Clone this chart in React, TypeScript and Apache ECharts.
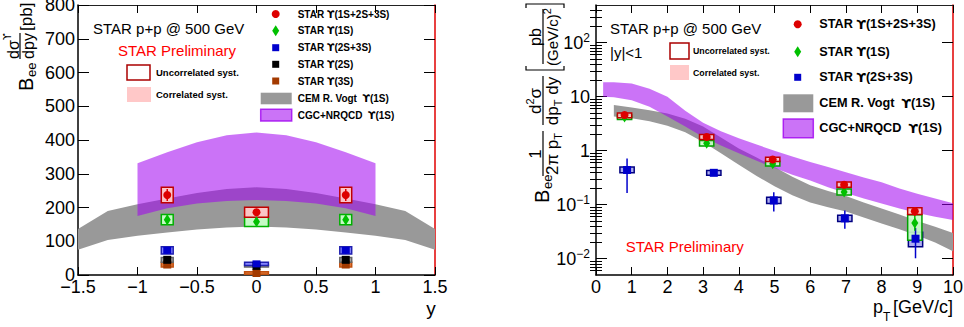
import React, { useEffect, useRef } from 'react';
import * as echarts from 'echarts';

const FONT = '"Liberation Sans", Arial, Helvetica, sans-serif';
const UPS_FONT = '"DejaVu Sans", "Liberation Sans", sans-serif';

// ---------------- Left panel: Bee dsigma/dy vs rapidity ----------------
const rapidity = [-0.75, 0, 0.75];
const rapidityHalfBin = [0.05, 0.1, 0.05];

const ups123Y = [237, 186, 237];
const ups123YStat = [18, 10, 18];
const ups123YSyst = [23, 15, 23];

const ups1SY = [164, 158, 164];
const ups1SYStat = [12, 9, 12];
const ups1SYSyst = [15, 14, 15];

const ups23Y = [73, 33, 73];
const ups23YStat = [10, 5, 10];
const ups23YSyst = [11, 5, 11];

const ups2SY = [45, 27, 45];
const ups2SYStat = [9, 6, 9];
const ups2SYSyst = [7, 3, 7];

const ups3SY = [31, 6, 31];
const ups3SYStat = [9, 6, 9];
const ups3SYSyst = [7, 4, 7];

const cemRap = [-1.5, -1.25, -1, -0.75, -0.5, -0.25, 0, 0.25, 0.5, 0.75, 1, 1.25, 1.5];
const cemRapLow = [75, 104, 116, 126, 135, 141, 144, 141, 135, 126, 116, 104, 75];
const cemRapHigh = [136, 190, 210, 227, 243, 255, 260, 255, 243, 227, 210, 190, 136];

const cgcRap = [-1, -0.75, -0.5, -0.25, 0, 0.25, 0.5, 0.75, 1];
const cgcRapLow = [175, 198, 212, 219, 222, 219, 212, 198, 175];
const cgcRapHigh = [331, 364, 393, 414, 422, 414, 393, 364, 331];

// ---------------- Right panel: pT spectra ----------------
const ptGround = [0.8, 3.1, 4.95, 6.95, 8.93];
const ptExcited = [0.87, 3.3, 4.98, 6.97, 8.95];
const ptHalfBin = [0.2, 0.2, 0.2, 0.2, 0.2];

const ups123Pt = [4.6, 1.8, 0.69, 0.235, 0.076];
const ups123PtStat = [[4.2, 5.0], [1.62, 1.98], [0.62, 0.77], [0.205, 0.27], [0.062, 0.09]];
const ups123PtSyst = [[4.1, 5.0], [1.62, 2.0], [0.63, 0.76], [0.21, 0.265], [0.066, 0.088]];

const ups1SPt = [4.2, 1.38, 0.575, 0.172, 0.046];
const ups1SPtStat = [[3.7, 4.7], [1.2, 1.56], [0.49, 0.66], [0.145, 0.2], [0.033, 0.062]];
const ups1SPtSyst = [[3.8, 4.6], [1.22, 1.55], [0.52, 0.64], [0.152, 0.195], [0.022, 0.065]];

const ups23Pt = [0.44, 0.39, 0.12, 0.056, 0.0235];
const ups23PtStat = [[0.165, 0.72], [0.34, 0.45], [0.075, 0.17], [0.036, 0.078], [0.0102, 0.037]];
const ups23PtSyst = [[0.39, 0.5], [0.35, 0.43], [0.105, 0.138], [0.049, 0.064], [0.0167, 0.031]];

const cemPt = [0.5, 1, 1.5, 2, 2.5, 3, 3.5, 4, 4.5, 5, 5.5, 6, 6.5, 7, 7.5, 8, 8.5, 9, 9.5, 10];
const cemPtLow = [4.3, 4.0, 3.5, 2.9, 2.2, 1.45, 0.9, 0.55, 0.34, 0.22, 0.15, 0.11, 0.09, 0.075, 0.058, 0.045, 0.035, 0.027, 0.02, 0.0138];
const cemPtHigh = [7.0, 6.3, 5.6, 4.9, 3.9, 2.8, 1.75, 1.1, 0.75, 0.5, 0.33, 0.23, 0.18, 0.145, 0.11, 0.085, 0.066, 0.05, 0.039, 0.03];

const cgcPt = [0.2, 0.5, 1, 1.5, 2, 2.5, 3, 3.5, 4, 4.5, 5, 5.5, 6, 6.5, 7, 7.5, 8, 8.5, 9, 9.5, 10];
const cgcPtLow = [10, 9.8, 8.6, 6.5, 4.3, 2.8, 1.8, 1.25, 0.9, 0.65, 0.48, 0.36, 0.28, 0.21, 0.165, 0.13, 0.105, 0.085, 0.07, 0.06, 0.052];
const cgcPtHigh = [18.5, 18.5, 17.5, 14, 10, 5.5, 3.3, 2.3, 1.7, 1.3, 1.0, 0.78, 0.62, 0.5, 0.4, 0.32, 0.26, 0.2, 0.16, 0.13, 0.107];

const logMajorTicks = [0.01, 0.1, 1, 10, 100];
const logMinorTicks = [
  0.006, 0.007, 0.008, 0.009,
  0.02, 0.03, 0.04, 0.05, 0.06, 0.07, 0.08, 0.09,
  0.2, 0.3, 0.4, 0.5, 0.6, 0.7, 0.8, 0.9,
  2, 3, 4, 5, 6, 7, 8, 9,
  20, 30, 40, 50, 60, 70, 80, 90,
  200, 300, 400,
];

// legend labels ({u|...} marks the Upsilon glyph)
const legendStates = ['STAR {u|\u03d2}(1S+2S+3S)', 'STAR {u|\u03d2}(1S)', 'STAR {u|\u03d2}(2S+3S)', 'STAR {u|\u03d2}(2S)', 'STAR {u|\u03d2}(3S)'];
const legendModels = ['CEM R. Vogt  {u|\u03d2}(1S)', 'CGC+NRQCD  {u|\u03d2}(1S)'];

// ---------------- colours ----------------
const RED = '#dd0000';
const GREEN = '#00c000';
const BLUE = '#0000cc';
const BLACK = '#000000';
const BROWN = '#a33a00';
const GRAY_BAND = '#999999';
const PURPLE_BAND = 'rgba(160,0,240,0.55)';

const symRange = (v: number[], e: number[]) => v.map((x, i) => [x - e[i], x + e[i]]);

function bandSeries(xA: number, yA: number, xs: number[], lo: number[], hi: number[], fill: string, z: number) {
  return {
    type: 'custom', xAxisIndex: xA, yAxisIndex: yA, z, silent: true,
    data: xs.map((x, i) => [x, lo[i], hi[i]]),
    encode: { x: 0, y: [1, 2] },
    renderItem: (params: any, api: any) => {
      if (params.dataIndex !== 0) return { type: 'group', children: [] };
      const pts: number[][] = [];
      for (let i = 0; i < xs.length; i++) pts.push(api.coord([xs[i], hi[i]]));
      for (let i = xs.length - 1; i >= 0; i--) pts.push(api.coord([xs[i], lo[i]]));
      return { type: 'polygon', shape: { points: pts }, style: { fill } };
    },
  };
}

function boxSeries(xA: number, yA: number, xs: number[], half: number[], ranges: number[][], fill: string, stroke: string) {
  return {
    type: 'custom', xAxisIndex: xA, yAxisIndex: yA, z: 3, silent: true, clip: false,
    data: xs.map((x, i) => [x - half[i], x + half[i], ranges[i][0], ranges[i][1]]),
    encode: { x: [0, 1], y: [2, 3] },
    renderItem: (_p: any, api: any) => {
      const a = api.coord([api.value(0), api.value(3)]);
      const b = api.coord([api.value(1), api.value(2)]);
      return {
        type: 'rect',
        shape: { x: a[0], y: a[1], width: b[0] - a[0], height: b[1] - a[1] },
        style: { fill, stroke, lineWidth: 1.5 },
      };
    },
  };
}

function errSeries(xA: number, yA: number, xs: number[], ranges: number[][], color: string) {
  return {
    type: 'custom', xAxisIndex: xA, yAxisIndex: yA, z: 4, silent: true, clip: false,
    data: xs.map((x, i) => [x, ranges[i][0], ranges[i][1]]),
    encode: { x: 0, y: [1, 2] },
    renderItem: (_p: any, api: any) => {
      const a = api.coord([api.value(0), api.value(1)]);
      const b = api.coord([api.value(0), api.value(2)]);
      return { type: 'line', shape: { x1: a[0], y1: a[1], x2: b[0], y2: b[1] }, style: { stroke: color, lineWidth: 1.5 } };
    },
  };
}

function markerSeries(xA: number, yA: number, xs: number[], vals: number[], symbol: string, size: any, color: string) {
  return {
    type: 'scatter', xAxisIndex: xA, yAxisIndex: yA, z: 5, silent: true, clip: false,
    symbol, symbolSize: size, itemStyle: { color, opacity: 1 },
    data: xs.map((x, i) => [x, vals[i]]),
  };
}

const signed = (v: number) => (v < 0 ? '\u2212' + String(-v) : String(v));
const powLabel = (v: number) => {
  const n = Math.round(Math.log10(v));
  if (n === 0) return '1';
  if (n === 1) return '10';
  return '10{sup|' + (n < 0 ? '\u2212' + -n : String(n)) + '}';
};

const supSub = {
  sup: { fontSize: 11, verticalAlign: 'top', fontFamily: FONT, fill: '#000' },
  sub: { fontSize: 11, verticalAlign: 'bottom', fontFamily: FONT, fill: '#000' },
};

function txt(x: number, y: number, text: string, size: number, align = 'left', extra: any = {}) {
  return {
    type: 'text', x, y,
    style: {
      text, fontSize: size, fontFamily: FONT, fill: '#000', align, verticalAlign: 'middle',
      lineHeight: 22, rich: supSub, ...extra,
    },
  };
}
function seg(x1: number, y1: number, x2: number, y2: number, color = '#000', w = 1.2) {
  return { type: 'line', shape: { x1, y1, x2, y2 }, style: { stroke: color, lineWidth: w } };
}
function legCircle(cx: number, cy: number, color: string) {
  return { type: 'circle', shape: { cx, cy, r: 4 }, style: { fill: color } };
}
function legDiamond(cx: number, cy: number, color: string) {
  return { type: 'polygon', shape: { points: [[cx, cy - 5.5], [cx + 3.5, cy], [cx, cy + 5.5], [cx - 3.5, cy]] }, style: { fill: color } };
}
function legSquare(cx: number, cy: number, color: string) {
  return { type: 'rect', shape: { x: cx - 3.5, y: cy - 3.5, width: 7, height: 7 }, style: { fill: color } };
}
function legRect(x: number, y: number, w: number, h: number, fill: string, stroke?: string) {
  return { type: 'rect', shape: { x, y, width: w, height: h }, style: { fill, stroke: stroke || null, lineWidth: 1.5 } };
}
const bold = (x: number, y: number, text: string, size: number) =>
  txt(x, y, text, size, 'left', {
    fontWeight: 'bold', lineHeight: size + 4,
    rich: { u: { fontFamily: UPS_FONT, fontWeight: 'bold', fontSize: size, fill: '#000' } },
  });

function buildOption() {
  const axText = { fontFamily: FONT, fontSize: 18, color: '#000', lineHeight: 18 };
  const tick = (len: number) => ({ show: true, inside: true, length: len, lineStyle: { color: '#000', width: 1 } });
  const line = (color: string, w: number) => ({ show: true, onZero: false, lineStyle: { color, width: w } });

  const xAxis = [
    { type: 'value', gridIndex: 0, position: 'bottom', min: -1.5, max: 1.5, interval: 0.5,
      axisLine: line('#000', 1.5), axisTick: tick(8), splitLine: { show: false },
      axisLabel: { ...axText, margin: 3, formatter: signed, showMinLabel: true, showMaxLabel: true } },
    { type: 'value', gridIndex: 1, position: 'bottom', min: 0, max: 10, interval: 1,
      axisLine: line('#000', 1.5), axisTick: tick(8), splitLine: { show: false },
      axisLabel: { ...axText, margin: 3, showMinLabel: true, showMaxLabel: true } },
    { type: 'value', gridIndex: 0, position: 'top', min: -1.5, max: 1.5, interval: 0.5,
      axisLine: line('#222', 1), axisTick: tick(8), axisLabel: { show: false }, splitLine: { show: false } },
    { type: 'value', gridIndex: 1, position: 'top', min: 0, max: 10, interval: 1,
      axisLine: line('#222', 1), axisTick: tick(8), axisLabel: { show: false }, splitLine: { show: false } },
  ];

  const logLabel = { ...axText, margin: 6, customValues: logMajorTicks, formatter: powLabel, lineHeight: 22,
    rich: { sup: { fontSize: 12, verticalAlign: 'top', fontFamily: FONT, color: '#000' } } };

  const yAxis = [
    { type: 'value', gridIndex: 0, position: 'left', min: 0, max: 800, interval: 100,
      axisLine: line('#000', 1.5), axisTick: tick(11), splitLine: { show: false },
      axisLabel: { ...axText, margin: 3, showMinLabel: true, showMaxLabel: true } },
    { type: 'log', gridIndex: 1, position: 'left', min: 0.005, max: 500, logBase: 10,
      axisLine: line('#000', 1.5), axisTick: { ...tick(11), customValues: logMajorTicks },
      axisLabel: logLabel, splitLine: { show: false }, minorTick: { show: false } },
    { type: 'value', gridIndex: 0, position: 'right', min: 0, max: 800, interval: 100,
      axisLine: line('#e00000', 1.5), axisTick: tick(11), axisLabel: { show: false }, splitLine: { show: false } },
    { type: 'log', gridIndex: 1, position: 'right', min: 0.005, max: 500, logBase: 10,
      axisLine: line('#e00000', 1.5), axisTick: { ...tick(11), customValues: logMajorTicks },
      axisLabel: { show: false }, splitLine: { show: false } },
    { type: 'log', gridIndex: 1, position: 'left', min: 0.005, max: 500, logBase: 10,
      axisLine: { show: false }, axisTick: { ...tick(6), customValues: logMinorTicks },
      axisLabel: { show: false }, splitLine: { show: false } },
    { type: 'log', gridIndex: 1, position: 'right', min: 0.005, max: 500, logBase: 10,
      axisLine: { show: false }, axisTick: { ...tick(6), customValues: logMinorTicks },
      axisLabel: { show: false }, splitLine: { show: false } },
  ];

  const series: any[] = [
    // left
    bandSeries(0, 0, cemRap, cemRapLow, cemRapHigh, GRAY_BAND, 1),
    bandSeries(0, 0, cgcRap, cgcRapLow, cgcRapHigh, PURPLE_BAND, 2),
    boxSeries(0, 0, rapidity, rapidityHalfBin, symRange(ups3SY, ups3SYSyst), '#e07838', '#c05010'),
    boxSeries(0, 0, rapidity, rapidityHalfBin, symRange(ups2SY, ups2SYSyst), '#a8a8a8', '#666666'),
    boxSeries(0, 0, rapidity, rapidityHalfBin, symRange(ups23Y, ups23YSyst), '#8585ff', '#2020b0'),
    boxSeries(0, 0, rapidity, rapidityHalfBin, symRange(ups1SY, ups1SYSyst), 'rgba(200,255,200,0.95)', '#00b000'),
    boxSeries(0, 0, rapidity, rapidityHalfBin, symRange(ups123Y, ups123YSyst), 'rgba(255,200,200,0.95)', '#c00000'),
    errSeries(0, 0, rapidity, symRange(ups3SY, ups3SYStat), BROWN),
    errSeries(0, 0, rapidity, symRange(ups2SY, ups2SYStat), BLACK),
    errSeries(0, 0, rapidity, symRange(ups23Y, ups23YStat), BLUE),
    errSeries(0, 0, rapidity, symRange(ups1SY, ups1SYStat), GREEN),
    errSeries(0, 0, rapidity, symRange(ups123Y, ups123YStat), RED),
    markerSeries(0, 0, rapidity, ups3SY, 'rect', 8, BROWN),
    markerSeries(0, 0, rapidity, ups2SY, 'rect', 8, BLACK),
    markerSeries(0, 0, rapidity, ups23Y, 'rect', [8, 7], BLUE),
    markerSeries(0, 0, rapidity, ups1SY, 'diamond', [7, 11], GREEN),
    markerSeries(0, 0, rapidity, ups123Y, 'circle', 8, RED),
    // right
    bandSeries(1, 1, cemPt, cemPtLow, cemPtHigh, GRAY_BAND, 1),
    bandSeries(1, 1, cgcPt, cgcPtLow, cgcPtHigh, PURPLE_BAND, 2),
    boxSeries(1, 1, ptExcited, ptHalfBin, ups23PtSyst, 'rgba(120,120,230,0.6)', '#000080'),
    boxSeries(1, 1, ptGround, ptHalfBin, ups1SPtSyst, 'rgba(200,255,200,0.9)', '#00a000'),
    boxSeries(1, 1, ptGround, ptHalfBin, ups123PtSyst, 'rgba(255,200,200,0.9)', '#c00000'),
    errSeries(1, 1, ptExcited, ups23PtStat, BLUE),
    errSeries(1, 1, ptGround, ups1SPtStat, GREEN),
    errSeries(1, 1, ptGround, ups123PtStat, RED),
    markerSeries(1, 1, ptExcited, ups23Pt, 'rect', 8, BLUE),
    markerSeries(1, 1, ptGround, ups1SPt, 'diamond', [7, 11], GREEN),
    markerSeries(1, 1, ptGround, ups123Pt, 'circle', 8, RED),
  ];

  const leftTitle = {
    type: 'group', x: 32, y: 92, rotation: Math.PI / 2,
    children: [
      txt(1, -6.5, 'B', 20),
      txt(15, -1, 'ee', 13),
      txt(46, -19, 'd\u03c3{u|\u03d2}', 16, 'center', {
        rich: { u: { fontFamily: UPS_FONT, fontSize: 10, verticalAlign: 'top', fill: '#000' } },
      }),
      seg(33, -12, 59, -12),
      txt(46, -4, 'dpy', 16, 'center'),
      txt(61, -5.3, '[pb]', 17),
    ],
  };

  const rightTitle = {
    type: 'group', x: 548, y: 205, rotation: Math.PI / 2,
    children: [
      txt(2, -6.5, 'B', 20),
      txt(16, -1, 'ee', 13),
      txt(51, -13, '1', 17, 'center'),
      seg(29, -5, 74, -5),
      txt(51, 4, '2\u03c0 p{sub|T}', 17, 'center'),
      txt(104, -13, 'd{sup|2}\u03c3', 17, 'center'),
      seg(80, -5, 129, -5),
      txt(104, 4, 'dp{sub|T} dy', 17, 'center'),
      { type: 'polyline', shape: { points: [[139, -22], [135, -22], [135, 16], [139, 16]] }, style: { stroke: '#000', lineWidth: 1.2, fill: null } },
      txt(168, -13, 'pb', 16, 'center'),
      seg(141, -5, 196, -5),
      txt(168, 4, '(GeV/c){sup|2}', 15, 'center'),
      { type: 'polyline', shape: { points: [[197, -22], [201, -22], [201, 16], [197, 16]] }, style: { stroke: '#000', lineWidth: 1.2, fill: null } },
    ],
  };

  const leftLegendY = [14, 30.7, 47.7, 64.3, 81];
  const leftModelY = [98.5, 115];
  const rightLegendY = [24.3, 51.7, 77.3];
  const rightModelY = [103, 128];

  const graphic: any[] = [
    leftTitle,
    rightTitle,
    // left panel texts
    txt(93, 28, 'STAR p+p @ 500 GeV', 15),
    txt(118, 50, 'STAR Preliminary', 15, 'left', { fill: '#ff0000' }),
    legRect(127, 65, 23, 15, '#ffffff', '#aa0000'),
    bold(156, 72.5, 'Uncorrelated syst.', 9.5),
    legRect(127, 87, 24, 15, '#ffc8c8'),
    bold(156, 94.5, 'Correlated syst.', 9.5),
    legCircle(275.7, leftLegendY[0], RED),
    legDiamond(275.7, leftLegendY[1], GREEN),
    legSquare(275.7, leftLegendY[2], BLUE),
    legSquare(275.7, leftLegendY[3], BLACK),
    legSquare(275.7, leftLegendY[4], BROWN),
    legRect(260.7, 92.7, 31, 11.6, GRAY_BAND),
    legRect(260.7, 109.3, 31, 11.7, PURPLE_BAND, 'rgba(160,0,240,0.8)'),
    ...legendStates.map((s, i) => bold(297.7, leftLegendY[i], s, 10)),
    ...legendModels.map((s, i) => bold(297.7, leftModelY[i], s, 10)),
    txt(431, 308, 'y', 19, 'center', { lineHeight: 19 }),
    // right panel texts
    txt(610, 28, 'STAR p+p @ 500 GeV', 15),
    txt(610, 52, '|y|<1', 15),
    legRect(670, 43, 19, 16, '#ffffff', '#aa0000'),
    bold(693, 51, 'Uncorrelated syst.', 8.8),
    legRect(670, 65, 19, 15, '#ffc8c8'),
    bold(693, 72.5, 'Correlated syst.', 8.8),
    legCircle(797.7, rightLegendY[0], RED),
    legDiamond(797.7, rightLegendY[1], GREEN),
    legSquare(797.7, rightLegendY[2], BLUE),
    legRect(783.3, 94.3, 30, 18, GRAY_BAND),
    legRect(783.3, 119, 30, 18.7, PURPLE_BAND, 'rgba(160,0,240,0.8)'),
    ...legendStates.slice(0, 3).map((s, i) => bold(819.3, rightLegendY[i], s, 12.7)),
    ...legendModels.map((s, i) => bold(819.3, rightModelY[i], s, 12.7)),
    txt(625.7, 246, 'STAR Preliminary', 15, 'left', { fill: '#ff0000' }),
    // x-axis title of right panel: p_T [GeV/c]
    txt(873, 307, 'p', 18, 'left', { lineHeight: 17 }),
    txt(883, 317, 'T', 12, 'left', { lineHeight: 12 }),
    txt(953, 307, '[GeV/c]', 18, 'right', { lineHeight: 17 }),
  ];

  return {
    animation: false,
    backgroundColor: '#ffffff',
    textStyle: { fontFamily: FONT },
    grid: [
      { left: 78, top: 5, width: 357, height: 270, outerBoundsMode: 'none', containLabel: false },
      { left: 596, top: 5, width: 357, height: 270, outerBoundsMode: 'none', containLabel: false },
    ],
    xAxis,
    yAxis,
    series,
    graphic,
  };
}

export default function App() {
  const ref = useRef<HTMLDivElement>(null);
  useEffect(() => {
    const chart = echarts.init(ref.current as HTMLDivElement, null, { renderer: 'svg' });
    chart.setOption(buildOption() as any);
    return () => chart.dispose();
  }, []);
  return (
    <div
      ref={ref}
      style={{ position: 'fixed', left: 0, top: 0, width: 964, height: 327, background: '#fff' }}
    />
  );
}
